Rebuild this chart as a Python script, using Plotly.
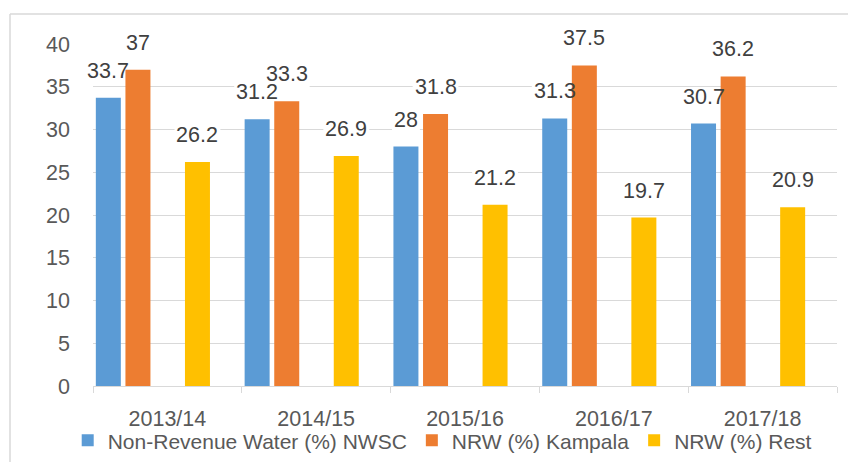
import plotly.graph_objects as go

categories = ["2013/14", "2014/15", "2015/16", "2016/17", "2017/18"]
nrw_nwsc = [33.7, 31.2, 28, 31.3, 30.7]
nrw_kampala = [37, 33.3, 31.8, 37.5, 36.2]
nrw_rest = [26.2, 26.9, 21.2, 19.7, 20.9]

series = [
    ("Non-Revenue Water (%) NWSC", nrw_nwsc, "#5B9BD5", -0.397),
    ("NRW (%) Kampala", nrw_kampala, "#ED7D31", -0.198),
    ("NRW (%) Rest", nrw_rest, "#FFC000", 0.202),
]
BAR_W = 0.168
FONT = "Liberation Sans, Arial, sans-serif"
NUM_SIZE = 21.5
LABEL_SHIFT = 27

# outer frame (left and top edges visible in the reference)
BX = (10 - 93) / 744
BY = (386 - 14) / 342
fig = go.Figure()
annotations = []
shapes = [
    dict(type="line", xref="paper", yref="paper", x0=BX, x1=1.2, y0=BY, y1=BY,
         line=dict(color="#d9d9d9", width=1.5), layer="below"),
    dict(type="line", xref="paper", yref="paper", x0=BX, x1=BX, y0=BY, y1=-0.4,
         line=dict(color="#d9d9d9", width=1.5), layer="below"),
]
for name, vals, color, center in series:
    fig.add_trace(go.Bar(
        x=categories, y=vals, name=name,
        marker=dict(color=color, line=dict(width=0)),
        width=BAR_W, offset=center - BAR_W / 2,
    ))
    for i, v in enumerate(vals):
        txt = f"{v:g}"
        annotations.append(dict(
            x=i + center, y=v, xref="x", yref="y",
            text=txt, showarrow=False,
            yanchor="middle", yshift=LABEL_SHIFT,
            font=dict(family=FONT, size=NUM_SIZE, color="#404040"),
        ))
        tw = sum(0.278 if c == "." else 0.556 for c in txt) * NUM_SIZE
        shapes.append(dict(
            type="rect", xref="x", yref="y",
            xsizemode="pixel", xanchor=i + center, x0=-tw / 2 - 2, x1=tw / 2 + 2,
            ysizemode="pixel", yanchor=v, y0=LABEL_SHIFT - 15, y1=LABEL_SHIFT + 7,
            line=dict(width=0), fillcolor="white", layer="between",
        ))

fig.update_layout(
    width=840, height=454,
    margin=dict(l=85, r=11, t=36, b=76, autoexpand=False),
    paper_bgcolor="white", plot_bgcolor="white",
    barmode="overlay",
    font=dict(family=FONT, size=NUM_SIZE, color="#595959"),
    showlegend=True,
    legend=dict(
        orientation="h", x=-0.034, xanchor="left", y=-0.16, yanchor="middle",
        font=dict(size=21, color="#595959"), bgcolor="rgba(0,0,0,0)",
        traceorder="normal",
    ),
    annotations=annotations,
    shapes=shapes,
)
fig.update_xaxes(
    type="category", range=[-0.5, 4.5], automargin=False,
    showline=True, linecolor="#d9d9d9", linewidth=1,
    ticks="outside", tickson="boundaries", ticklen=6, tickcolor="#d9d9d9",
    showgrid=False, ticklabelstandoff=13,
)
fig.update_yaxes(
    range=[0, 40], dtick=5, tick0=0, automargin=False,
    showgrid=True, gridcolor="#d9d9d9", gridwidth=1,
    zeroline=False, showline=False, ticks="", ticklabelstandoff=22,
)

fig.write_html("out.html")
